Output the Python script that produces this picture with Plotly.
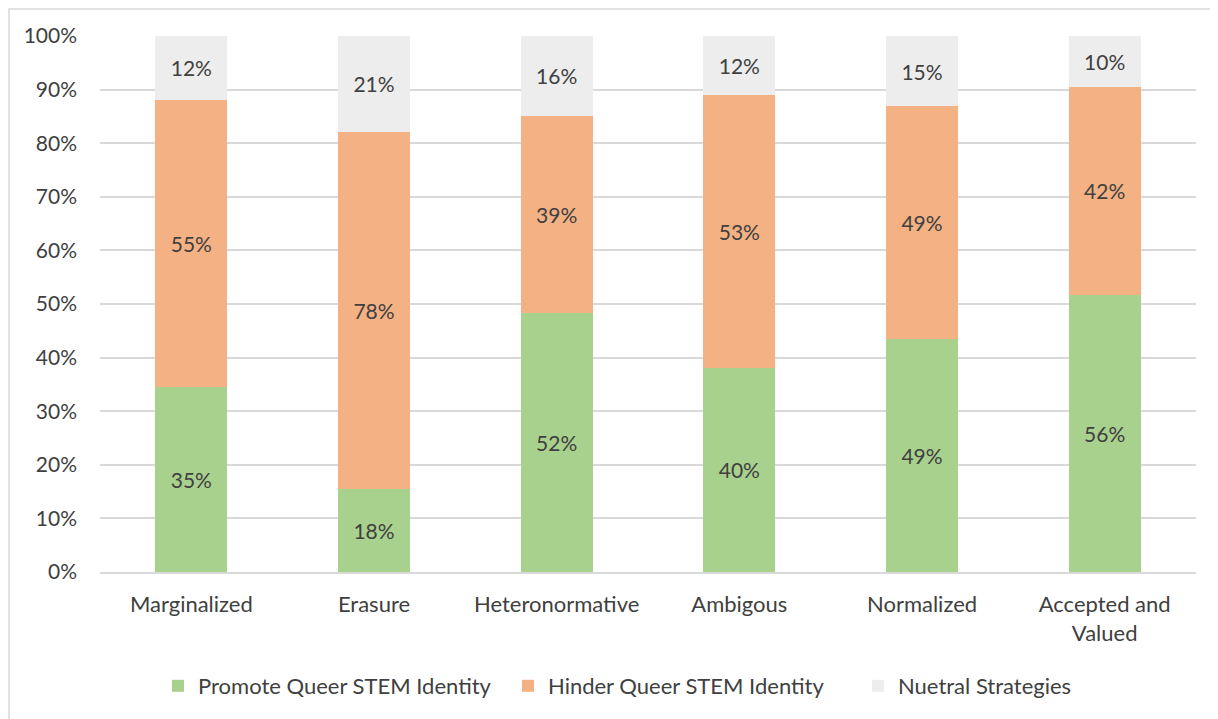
import plotly.graph_objects as go

categories = ["Marginalized", "Erasure", "Heteronormative", "Ambigous", "Normalized", "Accepted and<br>Valued"]

# segment heights (share of 100%)
promote = [34.5, 15.5, 48.3, 38.1, 43.4, 51.7]
hinder = [53.6, 66.6, 36.8, 50.9, 43.5, 38.8]
neutral = [11.9, 17.9, 14.9, 11.0, 13.1, 9.5]

# printed data labels
promote_lbl = ["35%", "18%", "52%", "40%", "49%", "56%"]
hinder_lbl = ["55%", "78%", "39%", "53%", "49%", "42%"]
neutral_lbl = ["12%", "21%", "16%", "12%", "15%", "10%"]

font_fam = "Lato, Open Sans, sans-serif"
txt_col = "#404040"

W, H = 1210, 711   # page body adds an 8px offset
L, R, T, B = 92, 22, 28, 147
pw, ph = W - L - R, H - T - B

fig = go.Figure()
series = [
    ("Promote Queer STEM Identity", promote, promote_lbl, "#A9D18E"),
    ("Hinder Queer STEM Identity", hinder, hinder_lbl, "#F4B183"),
    ("Nuetral Strategies", neutral, neutral_lbl, "#EDEDED"),
]
for name, vals, lbl, col in series:
    fig.add_trace(go.Bar(
        x=categories, y=vals, name=name,
        marker={'color': col, 'line': {'width': 0}},
        text=lbl, textposition='inside', insidetextanchor='middle',
        textfont={'color': txt_col, 'size': 21, 'family': font_fam},
        textangle=0,
    ))

fig.update_layout(
    barmode='stack', bargap=0.605,
    width=W, height=H,
    paper_bgcolor='white', plot_bgcolor='white',
    font={'family': font_fam, 'color': txt_col, 'size': 21},
    margin={'l': L, 'r': R, 't': T, 'b': B, 'autoexpand': False},
    uniformtext={'mode': 'show', 'minsize': 21},
    legend={'orientation': 'h', 'xanchor': 'left', 'x': (150 - L) / pw,
            'yanchor': 'middle', 'y': -(678 - (T + ph)) / ph,
            'font': {'size': 22, 'color': txt_col},
            'itemwidth': 30, 'traceorder': 'normal',
            'entrywidth': 305, 'entrywidthmode': 'pixels'},
    showlegend=True,
)
fig.update_yaxes(range=[0, 100], dtick=10, ticksuffix='%', showgrid=True,
                 gridcolor='#D9D9D9', gridwidth=1.5, zeroline=False,
                 showline=False, ticks='', ticklabelstandoff=22,
                 tickfont={'size': 21, 'color': txt_col})
fig.update_xaxes(showline=True, linecolor='#D9D9D9', linewidth=1.5,
                 ticks='', tickfont={'size': 22, 'color': txt_col},
                 ticklabelstandoff=12)

# outer chart frame
fig.add_shape(type='rect', xref='paper', yref='paper',
              x0=(1 - L) / pw, x1=(1205 - L) / pw,
              y0=-(H + 10 - (T + ph)) / ph, y1=(T + ph - 1) / ph,
              line={'color': '#D9D9D9', 'width': 1.5}, layer='below')

fig.write_html("out.html")
